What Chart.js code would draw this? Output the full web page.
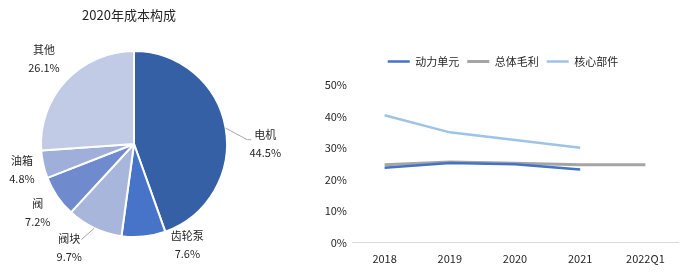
<!DOCTYPE html>
<html>
<head>
<meta charset="utf-8">
<script src="https://cdn.jsdelivr.net/npm/chart.js@4"></script>
<style>
  html, body { margin: 0; padding: 0; background: #fff; }
  #wrap { position: relative; width: 693px; height: 280px; }
  canvas { position: absolute; left: 0; top: 0; }
</style>
</head>
<body>
<div id="wrap">
  <canvas id="pie" width="693" height="280"></canvas>
  <canvas id="line" width="693" height="280"></canvas>
</div>
<script>
// ---- Data ----
const pieTitle = '2020年成本构成';
const pieLabels = ['电机', '齿轮泵', '阀块', '阀', '油箱', '其他'];
const pieValues = [44.5, 7.6, 9.7, 7.2, 4.8, 26.1];
const pieColors = ['#3560A6', '#4774C8', '#A9B6DC', '#6F8BCD', '#9FAFD9', '#C2CBE6'];

const years = ['2018', '2019', '2020', '2021', '2022Q1'];
const seriesNames = ['动力单元', '总体毛利', '核心部件'];
const powerUnit = [23.8, 25.3, 24.9, 23.2, null];
const grossMargin = [24.7, 25.6, 25.2, 24.7, 24.7];
const coreParts = [40.4, 35.0, 32.6, 30.1, null];
const lineColors = ['#4472C4', '#A5A5A5', '#9DC3E6'];
const yTicks = [0, 10, 20, 30, 40, 50];

const FONT = '"Noto Sans CJK SC", "Noto Sans", sans-serif';
const TXT = '#262626';

// label placement tweaks (offset from mid-angle anchor), pixels
const labelNudge = [[14, 20], [41, -18], [-14, -4], [2, 2], [4, 0], [-3, -4]];
const leaderSlices = [0, 2];

const pieLabelPlugin = {
  id: 'pieLabels',
  afterDraw(chart) {
    const ctx = chart.ctx;
    const meta = chart.getDatasetMeta(0);
    ctx.save();
    ctx.font = '13px ' + FONT;
    ctx.fillStyle = TXT;
    ctx.textAlign = 'center';
    ctx.textBaseline = 'middle';
    ctx.fillText(pieTitle, 129, 15);
    ctx.font = '11px ' + FONT;
    meta.data.forEach((arc, i) => {
      const p = arc.getProps(['x', 'y', 'startAngle', 'endAngle', 'outerRadius'], true);
      const mid = (p.startAngle + p.endAngle) / 2;
      const cos = Math.cos(mid), sin = Math.sin(mid);
      const lx = p.x + cos * (p.outerRadius + 26) + labelNudge[i][0];
      const ly = p.y + sin * (p.outerRadius + 26) + labelNudge[i][1];
      ctx.fillStyle = TXT;
      ctx.fillText(pieLabels[i], lx, ly - 9);
      ctx.fillText(pieValues[i].toFixed(1) + '%', lx, ly + 9);
      if (leaderSlices.includes(i)) {
        const ex = p.x + cos * p.outerRadius;
        const ey = p.y + sin * p.outerRadius;
        ctx.strokeStyle = '#A6A6A6';
        ctx.lineWidth = 1;
        ctx.beginPath();
        ctx.moveTo(ex, ey);
        if (i === 0) {
          ctx.lineTo(lx - 18, ly - 4);
          ctx.lineTo(lx - 14, ly - 4);
        } else {
          ctx.lineTo(lx + 12, ly - 8);
        }
        ctx.stroke();
      }
    });
    ctx.restore();
  }
};

new Chart(document.getElementById('pie'), {
  type: 'pie',
  data: {
    labels: pieLabels,
    datasets: [{
      data: pieValues,
      backgroundColor: pieColors,
      borderColor: '#ffffff',
      borderWidth: 2
    }]
  },
  options: {
    responsive: false,
    animation: false,
    events: [],
    layout: { padding: { left: 40, top: 50, right: 465, bottom: 42 } },
    plugins: { legend: { display: false }, tooltip: { enabled: false } }
  },
  plugins: [pieLabelPlugin]
});

const legendTweak = {
  id: 'legendTweak',
  beforeInit(chart) {
    const fit = chart.legend.fit;
    chart.legend.fit = function () { fit.call(this); this.height += 8; };
  },
  afterLayout(chart) {
    chart.legend.left += 8;
    chart.legend.right += 8;
  }
};

new Chart(document.getElementById('line'), {
  type: 'line',
  data: {
    labels: years,
    datasets: [
      { label: seriesNames[0], data: powerUnit, borderColor: lineColors[0], backgroundColor: lineColors[0], borderWidth: 2.5, pointRadius: 0, tension: 0 },
      { label: seriesNames[1], data: grossMargin, borderColor: lineColors[1], backgroundColor: lineColors[1], borderWidth: 3, pointRadius: 0, tension: 0 },
      { label: seriesNames[2], data: coreParts, borderColor: lineColors[2], backgroundColor: lineColors[2], borderWidth: 2.5, pointRadius: 0, tension: 0 }
    ]
  },
  options: {
    responsive: false,
    animation: false,
    events: [],
    layout: { padding: { left: 312, right: 15, top: 48, bottom: 6 } },
    plugins: {
      tooltip: { enabled: false },
      legend: {
        position: 'top',
        labels: {
          usePointStyle: true,
          pointStyle: 'line',
          pointStyleWidth: 22,
          padding: 8,
          color: TXT,
          font: { family: FONT, size: 11 }
        }
      }
    },
    scales: {
      x: {
        offset: true,
        grid: { display: false, drawTicks: false },
        border: { display: true, color: '#D9D9D9', width: 1 },
        ticks: { color: TXT, padding: 9, font: { family: FONT, size: 11 }, maxRotation: 0 }
      },
      y: {
        min: 0,
        max: 50,
        afterFit(s) { s.width = 40; },
        afterBuildTicks(s) { s.ticks = yTicks.map(v => ({ value: v })); },
        grid: { display: false, drawTicks: false },
        border: { display: false },
        ticks: { color: TXT, padding: 5, font: { family: FONT, size: 11 }, callback: v => v + '%' }
      }
    }
  },
  plugins: [legendTweak]
});
</script>
</body>
</html>
